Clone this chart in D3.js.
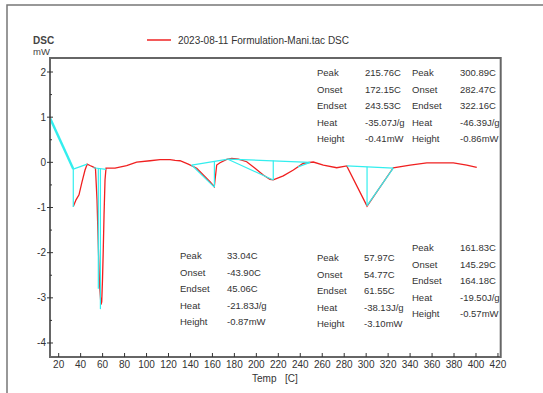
<!DOCTYPE html>
<html><head><meta charset="utf-8">
<script src="https://cdn.jsdelivr.net/npm/d3@7"></script>
<style>body{margin:0;background:#fff}svg{display:block}text{font-family:"Liberation Sans",Arial,sans-serif}</style>
</head><body><svg id="c" width="543" height="393"></svg>
<script>
// ---- data ----
const temps = [33.3,35.8,38.5,41.2,44,46,48.5,51.2,53.5,54.9,56.2,57.2,58.5,59.2,59.9,60.6,61.3,62.2,63.1,71.3,81.9,91,103.2,112.3,121.4,126,130.5,138,145.7,151.7,157.8,161.7,163.9,166.9,173,177.6,183.6,191.2,198.8,206.3,212.4,215.4,224.5,233.7,242.8,251.9,261,273.2,282.3,300.8,324.7,340,355.2,379.4,391.6,400.7];
const dsc = [-0.98,-0.83,-0.72,-0.44,-0.17,-0.04,-0.07,-0.1,-0.13,-0.83,-1.94,-2.71,-3.15,-3.09,-2.6,-1.94,-1.17,-0.39,-0.13,-0.13,-0.075,0.007,0.035,0.058,0.058,0.045,0.035,-0.04,-0.13,-0.28,-0.43,-0.54,-0.06,-0.01,0.066,0.088,0.073,0.013,-0.13,-0.28,-0.38,-0.39,-0.30,-0.17,-0.02,0.007,-0.06,-0.12,-0.08,-0.97,-0.12,-0.06,-0.01,-0.01,-0.06,-0.11];
// analysis lines: [T1, v1, T2, v2]
const analysisLines = [
  [12.1,0.98,33.3,-0.15],[33.3,-0.15,46,-0.04],[33.3,-0.15,33.3,-0.99],
  [51.5,-0.12,63.1,-0.155],[56.1,-0.13,56.1,-2.8],[58.0,-0.14,58.0,-3.25],
  [141.1,-0.06,173,0.066],[141.1,-0.06,161.7,-0.55],[161.8,0.022,161.8,-0.55],
  [173.6,0.073,249,0.0],[173.6,0.073,215.4,-0.39],[215.4,0.04,215.4,-0.39],[238,-0.1,249,0.0],
  [282.3,-0.08,324.7,-0.13],[300.8,-0.1,300.8,-0.96],[300.8,-0.96,324.7,-0.13]
];
const xTicks = d3.range(20, 421, 20);
const yTicks = [-4,-3,-2,-1,0,1,2];
const yMinor = [-3.5,-2.5,-1.5,-0.5,0.5,1.5];
const rowLabels = ["Peak","Onset","Endset","Heat","Height"];
const tableA = ["215.76C","172.15C","243.53C","-35.07J/g","-0.41mW"];
const tableB = ["300.89C","282.47C","322.16C","-46.39J/g","-0.86mW"];
const tableC = ["33.04C","-43.90C","45.06C","-21.83J/g","-0.87mW"];
const tableD = ["57.97C","54.77C","61.55C","-38.13J/g","-3.10mW"];
const tableE = ["161.83C","145.29C","164.18C","-19.50J/g","-0.57mW"];
const legendText = "2023-08-11 Formulation-Mani.tac  DSC";

// ---- layout ----
const L = 50, R = 500.7, T = 58, B = 357;
const svg = d3.select("#c");
const x = d3.scaleLinear().domain([12.1, 422.5]).range([L, R]);
const y = d3.scaleLinear().domain([-4.31, 2.31]).range([B, T]);
const ink = "#333", axisCol = "#666";

// outer frame
svg.append("path").attr("d","M7,393 V5 H543").attr("fill","none").attr("stroke","#777").attr("stroke-width",1.5);

// header
svg.append("text").attr("x",33).attr("y",44).attr("font-size",10).attr("font-weight","bold").attr("fill","#444").text("DSC");
svg.append("text").attr("x",33).attr("y",55).attr("font-size",9.5).attr("fill","#444").text("mW");
svg.append("line").attr("x1",147).attr("x2",171).attr("y1",40).attr("y2",40).attr("stroke","#f03030").attr("stroke-width",1.6);
svg.append("text").attr("x",178).attr("y",44).attr("font-size",10).attr("fill",ink).text(legendText);

// clip
svg.append("clipPath").attr("id","cp").append("rect").attr("x",L).attr("y",T).attr("width",R-L).attr("height",B-T);
const g = svg.append("g").attr("clip-path","url(#cp)");

// curve
const line = d3.line().x((d,i)=>x(temps[i])).y(d=>y(d));
g.append("path").attr("d", line(dsc)).attr("fill","none").attr("stroke","#f02020").attr("stroke-width",1.3);
// analysis lines
g.selectAll("line.an").data(analysisLines).join("line").attr("class","an")
  .attr("x1",d=>x(d[0])).attr("y1",d=>y(d[1])).attr("x2",d=>x(d[2])).attr("y2",d=>y(d[3]))
  .attr("stroke","#33eeee").attr("stroke-width",(d,i)=>i===0?2.4:1.2);

// plot box
svg.append("path").attr("d",`M${L},${B} V${T} H${R} V${B} Z`).attr("fill","none").attr("stroke",axisCol).attr("stroke-width",2);

// x axis ticks
const xa = svg.append("g");
xa.selectAll("line").data(xTicks).join("line").attr("x1",d=>x(d)).attr("x2",d=>x(d)).attr("y1",B-4).attr("y2",B).attr("stroke","#333").attr("stroke-width",1);
xa.selectAll("text").data(xTicks).join("text").attr("x",d=>x(d)).attr("y",368).attr("text-anchor","middle").attr("font-size",10).attr("fill",ink).text(d=>d);
svg.append("text").attr("x",252).attr("y",382).attr("font-size",10).attr("fill",ink).text("Temp");
svg.append("text").attr("x",285).attr("y",382).attr("font-size",10).attr("fill",ink).text("[C]");

// y axis ticks
const ya = svg.append("g");
ya.selectAll("line.maj").data(yTicks).join("line").attr("class","maj").attr("x1",L-3).attr("x2",L+3).attr("y1",d=>y(d)).attr("y2",d=>y(d)).attr("stroke","#333");
ya.selectAll("line.min").data(yMinor).join("line").attr("class","min").attr("x1",L).attr("x2",L+2).attr("y1",d=>y(d)).attr("y2",d=>y(d)).attr("stroke","#333");
ya.selectAll("text").data(yTicks).join("text").attr("x",L-4).attr("y",d=>y(d)+3.5).attr("text-anchor","end").attr("font-size",10).attr("fill",ink).text(d=>d);

// tables
function table(lx, vx, y0, labels, vals){
  const tg = svg.append("g");
  labels.forEach((lab,i)=>{
    tg.append("text").attr("x",lx).attr("y",y0+i*16.5).attr("font-size",9.5).attr("fill",ink).text(lab);
    tg.append("text").attr("x",vx).attr("y",y0+i*16.5).attr("font-size",9.5).attr("fill",ink).text(vals[i]);
  });
}
table(317,365,76,rowLabels,tableA);
table(412,460,76,rowLabels,tableB);
table(180,227,259,rowLabels,tableC);
table(317,364,261,rowLabels,tableD);
table(412,460,251,rowLabels,tableE);
</script></body></html>
